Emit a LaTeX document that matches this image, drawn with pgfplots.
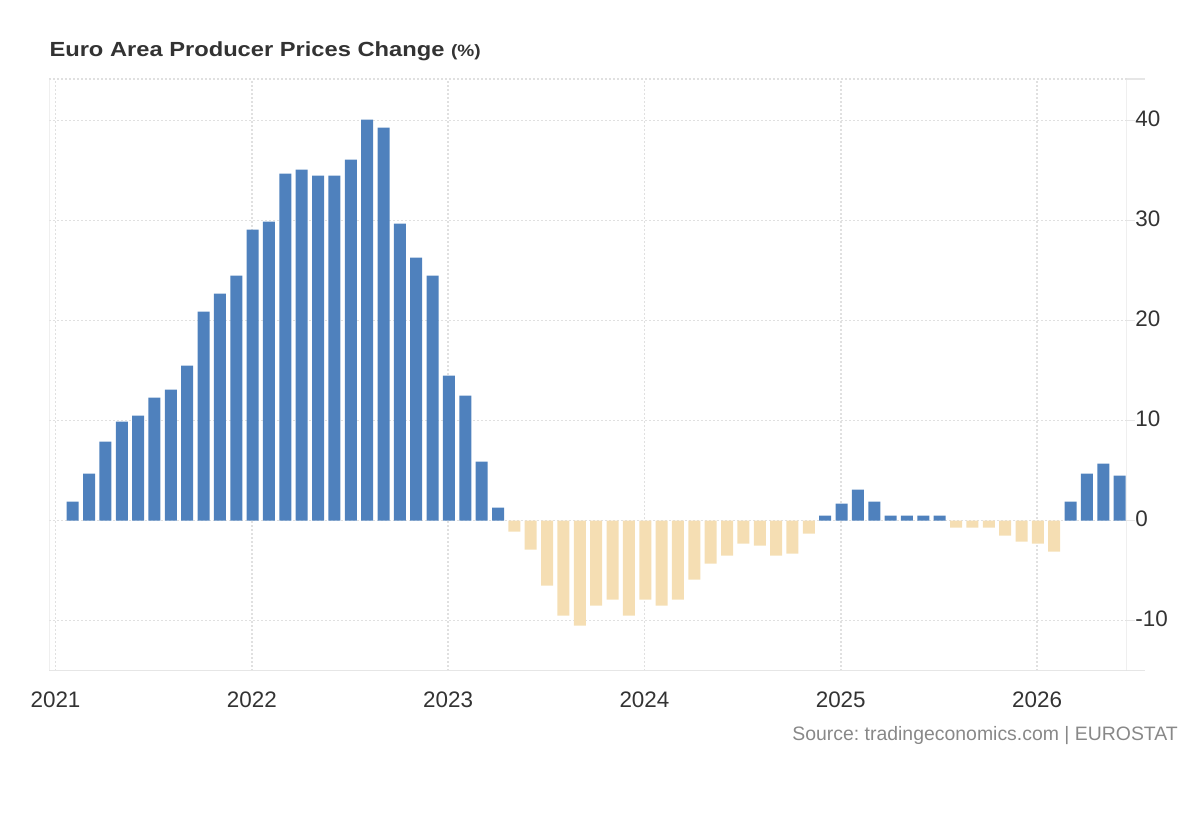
\documentclass[border=0pt]{standalone}
\usepackage{pgfplots}
\usepackage{pgfplotstable}
\pgfplotsset{compat=1.18}
\usepackage{fontspec}
\setmainfont{Liberation Sans}
\frenchspacing
\definecolor{barblue}{HTML}{4F81BD}
\definecolor{bartan}{HTML}{F5DEB3}
\definecolor{gridc}{HTML}{E0E0E0}
\definecolor{axisc}{HTML}{E6E6E6}
\definecolor{txt}{HTML}{333333}
\definecolor{src}{HTML}{888888}
\pgfplotstableread{
x y
1 1.9
2 4.7
3 7.9
4 9.9
5 10.5
6 12.3
7 13.1
8 15.5
9 20.9
10 22.7
11 24.5
12 29.1
13 29.9
14 34.7
15 35.1
16 34.5
17 34.5
18 36.1
19 40.1
20 39.3
21 29.7
22 26.3
23 24.5
24 14.5
25 12.5
26 5.9
27 1.3
47 0.5
48 1.7
49 3.1
50 1.9
51 0.5
52 0.5
53 0.5
54 0.5
62 1.9
63 4.7
64 5.7
65 4.5
}\posdata
\pgfplotstableread{
x y
28 -1.1
29 -2.9
30 -6.5
31 -9.5
32 -10.5
33 -8.5
34 -7.9
35 -9.5
36 -7.9
37 -8.5
38 -7.9
39 -5.9
40 -4.3
41 -3.5
42 -2.3
43 -2.5
44 -3.5
45 -3.3
46 -1.3
55 -0.7
56 -0.7
57 -0.7
58 -1.5
59 -2.1
60 -2.3
61 -3.1
}\negdata
\begin{document}
\begin{tikzpicture}
\useasboundingbox (0,0) rectangle (1200bp,820bp);
\begin{axis}[
  at={(49.3bp,149.3bp)}, anchor=south west,
  scale only axis, width=1077.4bp, height=591.7bp,
  xmin=-0.38, xmax=65.48, ymin=-15, ymax=44.17,
  axis line style={draw=none},
  xtick={0,12,24,36,48,60}, xticklabels={2021,2022,2023,2024,2025,2026},
  ytick={-10,0,10,20,30,40}, yticklabels={-10,0,10,20,30,40},
  grid=major,
  major grid style={gridc, line width=1.6bp, dash pattern=on 2bp off 2bp},
  ytick pos=right, yticklabel pos=right,
  tick align=outside, major tick length=8.5bp,
  ytick style={axisc, line width=1.3bp},
  xtick style={draw=none},
  xticklabel style={anchor=north, inner sep=0pt, yshift=-12.6bp, font=\fontsize{22.5}{27}\selectfont, text=txt},
  yticklabel style={anchor=west, inner sep=0pt, xshift=0bp, yshift=2.4bp, font=\fontsize{22.5}{27}\selectfont, text=txt},
  extra y ticks={-15,44.17}, extra y tick labels={},
  extra y tick style={major tick length=18bp, ytick style={axisc, line width=1.3bp}},
]
\addplot[ybar, bar width=12bp, bar shift=0pt, fill=barblue, draw=none] table[x expr=\thisrow{x}+0.05, y=y] {\posdata};
\addplot[ybar, bar width=12bp, bar shift=0pt, fill=bartan, draw=none] table[x expr=\thisrow{x}+0.05, y=y] {\negdata};
\draw[axisc, line width=2bp] (rel axis cs:0,1) -- (rel axis cs:0,0) -- (rel axis cs:1,0) -- (rel axis cs:1,1);
\end{axis}
\node[anchor=base west, inner sep=0pt, text=txt, font=\bfseries\fontsize{20.5}{24}\selectfont] at (49.3bp,763bp) {\scalebox{1.16}[1]{Euro Area Producer Prices Change {\fontsize{16.5}{19}\selectfont(\%)}}};
\node[anchor=base east, inner sep=0pt, text=src, font=\fontsize{19.5}{23}\selectfont] at (1178bp,79.3bp) {Source: tradingeconomics.com | EUROSTAT};
\end{tikzpicture}
\end{document}
